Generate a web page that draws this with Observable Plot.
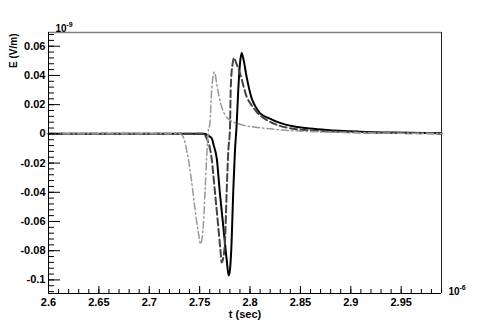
<!DOCTYPE html>
<html>
<head>
<meta charset="utf-8">
<script src="https://cdn.jsdelivr.net/npm/d3@7"></script>
<script src="https://cdn.jsdelivr.net/npm/@observablehq/plot@0.6"></script>
<style>
  html, body { margin: 0; padding: 0; background: #fff; }
  svg { display: block; }
</style>
</head>
<body>
<div id="chart"></div>
<script>
// time in units of 1e-6 s, field in units of 1e-9 V/m
const solidT = [2.6, 2.755, 2.758, 2.762, 2.764, 2.767, 2.770, 2.7734, 2.7768, 2.7788, 2.7801, 2.7817, 2.7833, 2.785, 2.7867, 2.7883, 2.790, 2.7917, 2.7935, 2.7966, 2.8016, 2.8059, 2.8098, 2.8197, 2.8297, 2.8426, 2.8596, 2.8763, 2.909, 2.9418, 2.99];
const solidE = [0, 0, -0.001, -0.003, -0.008, -0.017, -0.040, -0.063, -0.086, -0.097, -0.093, -0.074, -0.040, -0.012, 0.006, 0.030, 0.048, 0.0553, 0.051, 0.039, 0.0244, 0.018, 0.0142, 0.0105, 0.0075, 0.0052, 0.0036, 0.0026, 0.0015, 0.0009, 0.0005];

const dashT = [2.6, 2.7533, 2.7569, 2.7619, 2.7652, 2.7684, 2.7708, 2.7718, 2.7731, 2.7751, 2.7768, 2.7784, 2.7801, 2.7808, 2.7823, 2.7843, 2.786, 2.790, 2.7966, 2.8016, 2.8065, 2.8165, 2.8297, 2.8426, 2.8596, 2.8763, 2.909, 2.9418, 2.99];
const dashE = [0, 0, -0.003, -0.017, -0.040, -0.063, -0.081, -0.088, -0.086, -0.074, -0.040, -0.012, 0.004, 0.030, 0.046, 0.052, 0.049, 0.0415, 0.0255, 0.0195, 0.0151, 0.0095, 0.0055, 0.0035, 0.0024, 0.0017, 0.0010, 0.0006, 0.0003];

const dotT = [2.6, 2.7305, 2.7337, 2.7364, 2.7387, 2.7421, 2.7453, 2.7486, 2.751, 2.7523, 2.7536, 2.7553, 2.7569, 2.7585, 2.7602, 2.7619, 2.7635, 2.7645, 2.7657, 2.7668, 2.7691, 2.7718, 2.7751, 2.7801, 2.790, 2.8098, 2.8297, 2.8596, 2.909, 2.99];
const dotE = [0, 0, -0.002, -0.009, -0.017, -0.033, -0.051, -0.067, -0.0754, -0.072, -0.063, -0.040, -0.017, 0.0014, 0.0075, 0.030, 0.040, 0.0423, 0.040, 0.0347, 0.026, 0.0186, 0.013, 0.0094, 0.0066, 0.0042, 0.0028, 0.0016, 0.0008, 0.0003];

const xDomain = [2.6, 2.99];
const yDomain = [-0.1093, 0.0694];

const xTicks = [2.6, 2.65, 2.7, 2.75, 2.8, 2.85, 2.9, 2.95];
const xTickLabels = ["2.6", "2.65", "2.7", "2.75", "2.8", "2.85", "2.9", "2.95"];
const xMinor = d3.range(0, 40).map(i => +(2.6 + i * 0.01).toFixed(3));

const yTicks = [-0.1, -0.08, -0.06, -0.04, -0.02, 0, 0.02, 0.04, 0.06];
const yTickLabels = ["-0.1", "-0.08", "-0.06", "-0.04", "-0.02", "0", "0.02", "0.04", "0.06"];
const yMinor = d3.range(0, 45).map(i => +(-0.108 + i * 0.004).toFixed(4));

const xTitle = "t (sec)";
const yTitle = "E (V/m)";
const xExp = ["10", "-6"];
const yExp = ["10", "-9"];

const series = (T, E) => T.map((t, i) => ({t, e: E[i]}));
const solid = series(solidT, solidE);
const dashed = series(dashT, dashE);
const dotted = series(dotT, dotE);

const font = "'Liberation Sans', Arial, Helvetica, sans-serif";

const chart = Plot.plot({
  width: 491,
  height: 327,
  marginLeft: 48,
  marginRight: 50,
  marginTop: 32,
  marginBottom: 34,
  style: {fontFamily: font, fontSize: "11px", fontWeight: "bold", background: "#fff", color: "#000"},
  x: {domain: xDomain, label: null, axis: null},
  y: {domain: yDomain, label: null, axis: null},
  marks: [
    // frame (top gray, right dark)
    Plot.ruleY([yDomain[1]], {stroke: "#808080", strokeWidth: 1.5}),
    Plot.ruleX([xDomain[1]], {stroke: "#222", strokeWidth: 1}),
    // curves
    Plot.line(solid, {x: "t", y: "e", stroke: "#000", strokeWidth: 2, curve: "monotone-x"}),
    Plot.line(dashed, {x: "t", y: "e", stroke: "#444", strokeWidth: 2, strokeDasharray: "7,3.5", curve: "monotone-x"}),
    Plot.line(dotted, {x: "t", y: "e", stroke: "#999", strokeWidth: 1.5, strokeDasharray: "7,3,1.5,3", curve: "monotone-x"}),
    // axis lines
    Plot.ruleX([xDomain[0]], {stroke: "#000", strokeWidth: 1}),
    Plot.ruleY([yDomain[0]], {stroke: "#000", strokeWidth: 1}),
    // y ticks (inward)
    Plot.axisY(yMinor, {anchor: "left", tickSize: 6, dx: 6, tickFormat: () => "", stroke: "#000"}),
    Plot.axisY(yTicks, {anchor: "left", tickSize: 12, dx: 12, tickFormat: () => "", stroke: "#000"}),
    Plot.axisY(yTicks, {anchor: "left", tickSize: 0, tickPadding: 3, tickFormat: d => yTickLabels[yTicks.indexOf(d)], fontSize: 11, fill: "#000"}),
    // x ticks (inward)
    Plot.axisX(xMinor, {anchor: "bottom", tickSize: 4, dy: -4, tickFormat: () => "", stroke: "#000"}),
    Plot.axisX(xTicks, {anchor: "bottom", tickSize: 7, dy: -7, tickFormat: () => "", stroke: "#000"}),
    Plot.axisX(xTicks, {anchor: "bottom", tickSize: 0, tickPadding: 5, tickFormat: d => xTickLabels[xTicks.indexOf(d)], fontSize: 11, fill: "#000"}),
    // titles
    Plot.text([yTitle], {frameAnchor: "top-left", rotate: -90, dx: -35, dy: 1, textAnchor: "end", lineAnchor: "middle", fontSize: 10, fontWeight: "bold", fill: "#000"}),
    Plot.text([xTitle], {frameAnchor: "bottom", dy: 24, lineAnchor: "bottom", fontSize: 11, fontWeight: "bold", fill: "#000"}),
    // exponents
    Plot.text([yExp[0]], {frameAnchor: "top-left", dx: 7, dy: -1, textAnchor: "start", lineAnchor: "bottom", fontSize: 10, fontWeight: "bold", fill: "#000"}),
    Plot.text([yExp[1]], {frameAnchor: "top-left", dx: 18, dy: -6, textAnchor: "start", lineAnchor: "bottom", fontSize: 7, fontWeight: "bold", fill: "#000"}),
    Plot.text([xExp[0]], {frameAnchor: "bottom-right", dx: 7, dy: 1, textAnchor: "start", lineAnchor: "bottom", fontSize: 10, fontWeight: "bold", fill: "#000"}),
    Plot.text([xExp[1]], {frameAnchor: "bottom-right", dx: 18, dy: -4, textAnchor: "start", lineAnchor: "bottom", fontSize: 7, fontWeight: "bold", fill: "#000"})
  ]
});
document.getElementById("chart").appendChild(chart);
</script>
</body>
</html>
